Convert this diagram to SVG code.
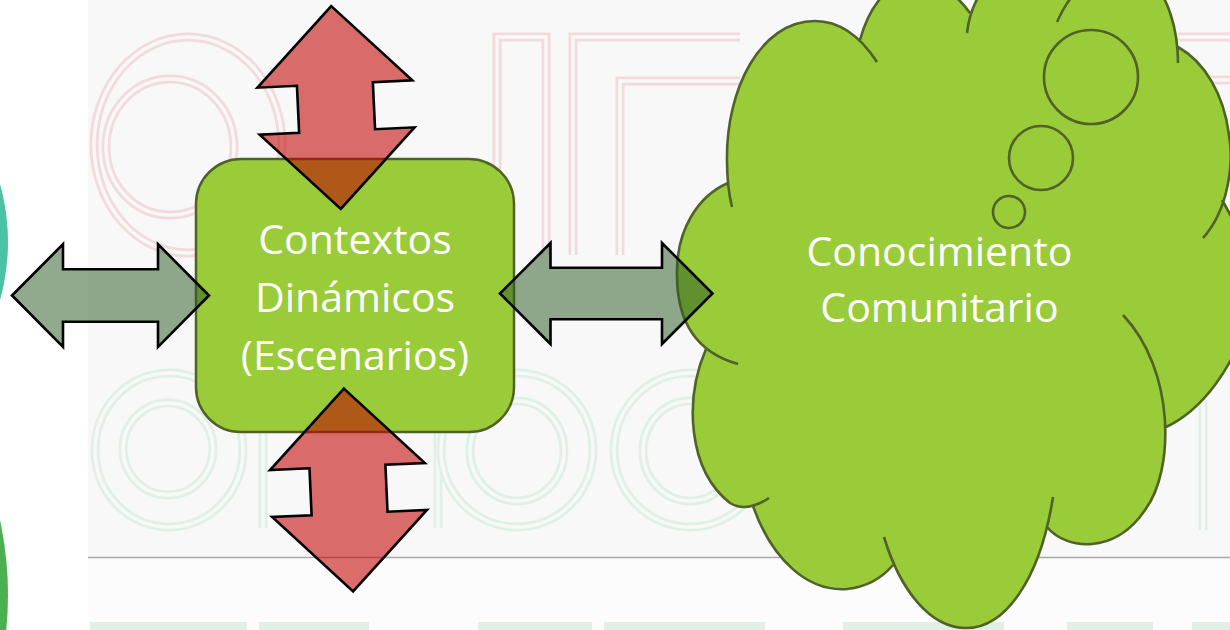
<svg xmlns="http://www.w3.org/2000/svg" width="1230" height="630" viewBox="0 0 1230 630">
<defs>
<style>
.wr{fill:none;stroke:#f3dadd;stroke-width:9}
.wg{fill:none;stroke:#e0f0e6;stroke-width:9}
.wc{fill:none;stroke:#f8f8f8;stroke-width:3.5}
.wbar{fill:#e0f0e6}
.cloudfill{fill:#9acb38;stroke:none}
.cloudline{fill:none;stroke:#4f6228;stroke-width:2.6}
.bubble{fill:#9acb38;stroke:#4f6228;stroke-width:2.6}
.node{fill:#9acb38;stroke:#4f6228;stroke-width:2.5}
.lbl{font-family:'Open Sans','Liberation Sans',sans-serif;font-size:41px;fill:#ffffff;text-anchor:middle}
.red{fill:#c20000;fill-opacity:0.57;stroke:#000000;stroke-width:2.6}
.grn{fill:#305c28;fill-opacity:0.53;stroke:#000000;stroke-width:2.6}
</style>
</defs>

<g id="background">
<rect x="0" y="0" width="1230" height="630" fill="#ffffff"/>
<rect x="88" y="0" width="1142" height="557" fill="#f8f8f8"/>
<rect x="88" y="557" width="1142" height="73" fill="#fcfcfc"/>
<circle cx="-206" cy="242" r="214" fill="#4cc2a4"/>
<circle cx="-347" cy="595" r="355" fill="#4cb050"/>
<ellipse class="wr" cx="188" cy="145" rx="94" ry="108"/>
<ellipse class="wc" cx="188" cy="145" rx="94" ry="108"/>
<ellipse class="wr" cx="170" cy="147" rx="64" ry="68"/>
<ellipse class="wc" cx="170" cy="147" rx="64" ry="68"/>
<path class="wr" d="M497,255 V37 H546 V255"/>
<path class="wc" d="M497,255 V37 H546 V255"/>
<path class="wr" d="M573,255 V37 H740"/>
<path class="wc" d="M573,255 V37 H740"/>
<path class="wr" d="M620,255 V81 H740"/>
<path class="wc" d="M620,255 V81 H740"/>
<path class="wr" d="M1178,37 H1236 M1178,80 H1236"/>
<path class="wc" d="M1178,37 H1236 M1178,80 H1236"/>
<ellipse class="wg" cx="169" cy="450" rx="74" ry="77"/>
<ellipse class="wc" cx="169" cy="450" rx="74" ry="77"/>
<ellipse class="wg" cx="168" cy="449" rx="45" ry="46"/>
<ellipse class="wc" cx="168" cy="449" rx="45" ry="46"/>
<path class="wg" d="M263,430 V528 M438,430 V528"/>
<path class="wc" d="M263,430 V528 M438,430 V528"/>
<ellipse class="wg" cx="517" cy="450" rx="76" ry="77"/>
<ellipse class="wc" cx="517" cy="450" rx="76" ry="77"/>
<ellipse class="wg" cx="517" cy="451" rx="47" ry="50"/>
<ellipse class="wc" cx="517" cy="451" rx="47" ry="50"/>
<ellipse class="wg" cx="690" cy="450" rx="76" ry="77"/>
<ellipse class="wc" cx="690" cy="450" rx="76" ry="77"/>
<ellipse class="wg" cx="690" cy="451" rx="47" ry="50"/>
<ellipse class="wc" cx="690" cy="451" rx="47" ry="50"/>
<path class="wg" d="M1203,400 V530"/>
<path class="wc" d="M1203,400 V530"/>
<rect class="wbar" x="90" y="622" width="157" height="8"/>
<rect class="wbar" x="259" y="622" width="110" height="8"/>
<rect class="wbar" x="478" y="622" width="114" height="8"/>
<rect class="wbar" x="604" y="622" width="161" height="8"/>
<rect class="wbar" x="843" y="622" width="161" height="8"/>
<rect class="wbar" x="1067" y="622" width="86" height="8"/>
<rect class="wbar" x="1192" y="622" width="38" height="8"/>
<line x1="88" y1="557.5" x2="1230" y2="557.5" stroke="#a8a8a8" stroke-width="1.6"/>
</g>

<g id="node-conocimiento">
<path class="cloudfill" d="M877,62 C860,36 840,21 815,21 C760,21 726,90 727,160 C727,180 729,195 732,207 L728,183 C698,196 676,230 677,275 C677,320 695,352 738,364 L706,349 C684,400 688,470 730,503 C743,511 757,506 769,498 L753,506 C772,560 808,592 847,589 C866,587 882,578 893,565 L884,537 C900,590 930,628 966,628 C1005,628 1040,580 1053,497 L1047,527 C1066,550 1115,555 1145,510 C1175,470 1175,370 1123,315 L1164,428 C1200,412 1235,370 1255,300 C1250,260 1240,230 1222,200 L1203,238 C1228,210 1234,165 1229,135 C1224,95 1205,62 1178,47 L1178,63 C1178,30 1168,-5 1150,-20 C1120,-40 1080,-30 1057,22 L1077,-9 C1050,-40 1010,-40 995,-25 C982,-12 970,5 967,33 L970,13 C955,-8 935,-20 912,-20 C888,-20 868,10 860,40 Z"/>
<path class="cloudline" d="M877,62 C860,36 840,21 815,21 C760,21 726,90 727,160 C727,180 729,195 732,207 M728,183 C698,196 676,230 677,275 C677,320 695,352 738,364 M706,349 C684,400 688,470 730,503 C743,511 757,506 769,498 M753,506 C772,560 808,592 847,589 C866,587 882,578 893,565 M884,537 C900,590 930,628 966,628 C1005,628 1040,580 1053,497 M1047,527 C1066,550 1115,555 1145,510 C1175,470 1175,370 1123,315 M1164,428 C1200,412 1235,370 1255,300 C1250,260 1240,230 1222,200 M1203,238 C1228,210 1234,165 1229,135 C1224,95 1205,62 1178,47 M1178,63 C1178,30 1168,-5 1150,-20 C1120,-40 1080,-30 1057,22 M1077,-9 C1050,-40 1010,-40 995,-25 C982,-12 970,5 967,33 M970,13 C955,-8 935,-20 912,-20 C888,-20 868,10 860,40"/>
<circle class="bubble" cx="1091" cy="77" r="47"/>
<circle class="bubble" cx="1041" cy="158" r="32"/>
<circle class="bubble" cx="1009" cy="212" r="16"/>
<text class="lbl" x="939.5" y="265.5">Conocimiento</text>
<text class="lbl" x="939.5" y="322">Comunitario</text>
</g>

<g id="node-contextos">
<rect class="node" x="196" y="159" width="318" height="273" rx="45" ry="45"/>
<text class="lbl" x="355" y="254">Contextos</text>
<text class="lbl" x="355" y="312">Dinámicos</text>
<text class="lbl" x="355" y="370">(Escenarios)</text>
</g>

<g id="connectors">
<path class="red" transform="translate(336,107.5) rotate(-2.7)" d="M0,-101.5 L77.5,-23.5 L38,-23.5 L38,23.5 L77.5,23.5 L0,101.5 L-77.5,23.5 L-38,23.5 L-38,-23.5 L-77.5,-23.5 Z"/>
<path class="red" transform="translate(348.5,490) rotate(-2.6)" d="M0,-101.5 L77.5,-23.5 L38,-23.5 L38,23.5 L77.5,23.5 L0,101.5 L-77.5,23.5 L-38,23.5 L-38,-23.5 L-77.5,-23.5 Z"/>
<path class="grn" d="M12,295.5 L63,244.2 L63,269.3 L158,269.3 L158,244.2 L209,295.5 L158,346.8 L158,321.7 L63,321.7 L63,346.8 Z"/>
<path class="grn" d="M500,293.5 L550.5,243 L550.5,267.7 L662,267.7 L662,243 L712.5,293.5 L662,344 L662,319.3 L550.5,319.3 L550.5,344 Z"/>
</g>
</svg>
